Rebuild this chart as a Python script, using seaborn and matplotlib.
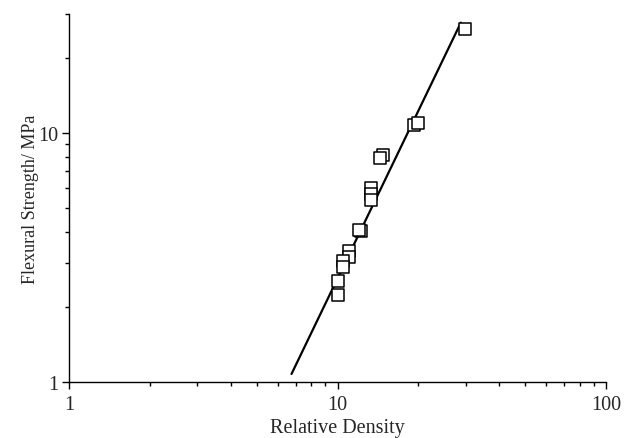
import matplotlib
matplotlib.use("Agg")
import matplotlib.pyplot as plt
import matplotlib.ticker as mticker
import seaborn as sns
import pandas as pd

# Data
rel_density = [29.8, 19.3, 19.9, 14.8, 14.4, 13.3, 13.3, 13.3, 12.2, 12.0,
               11.0, 11.0, 10.5, 10.5, 10.0, 10.0]
flex_strength = [26.2, 10.8, 11.0, 8.16, 7.94, 6.01, 5.69, 5.38, 4.04, 4.07,
                 3.36, 3.18, 3.06, 2.90, 2.55, 2.24]
fit_x = [6.74, 28.8]
fit_y = [1.077, 27.7]

df = pd.DataFrame({"x": rel_density, "y": flex_strength})
fit = pd.DataFrame({"x": fit_x, "y": fit_y})

sns.set_style("ticks")
plt.rcParams["font.family"] = ["Liberation Serif", "DejaVu Serif"]

fig = plt.figure(figsize=(6.28, 4.39), dpi=100)
ax = fig.add_axes([69/628, 1 - 383/439, (606-69)/628, (383-15)/439])

sns.lineplot(data=fit, x="x", y="y", ax=ax, color="black", linewidth=1.6)
sns.scatterplot(data=df, x="x", y="y", ax=ax, marker="s", s=75,
                facecolor="white", edgecolor="black", linewidth=1.1, zorder=3)

ax.set_xscale("log")
ax.set_yscale("log")
ax.set_xlim(1, 100)
ax.set_ylim(1, 30)

ax.xaxis.set_major_locator(mticker.FixedLocator([1, 10, 100]))
ax.xaxis.set_major_formatter(mticker.FixedFormatter(["1", "10", "100"]))
ax.xaxis.set_minor_locator(mticker.LogLocator(base=10, subs=range(2, 10)))
ax.xaxis.set_minor_formatter(mticker.NullFormatter())
ax.yaxis.set_major_locator(mticker.FixedLocator([1, 10]))
ax.yaxis.set_major_formatter(mticker.FixedFormatter(["1", "10"]))
ax.yaxis.set_minor_locator(mticker.LogLocator(base=10, subs=range(2, 10)))
ax.yaxis.set_minor_formatter(mticker.NullFormatter())

ax.tick_params(which="major", length=5, width=1, labelsize=14.5, color="black", direction="out")
ax.tick_params(which="minor", length=3, width=1, color="black", direction="out")
ax.tick_params(axis="x", which="major", pad=4.5)
ax.tick_params(axis="y", which="major", pad=3)

for s in ["top", "right"]:
    ax.spines[s].set_visible(False)
for s in ["left", "bottom"]:
    ax.spines[s].set_linewidth(1.0)
    ax.spines[s].set_color("black")

ax.set_xlabel("Relative Density", fontsize=14.5, labelpad=2.5)
ax.set_ylabel("Flexural Strength/ MPa", fontsize=13, labelpad=-1)

fig.savefig("out.png", dpi=100)
